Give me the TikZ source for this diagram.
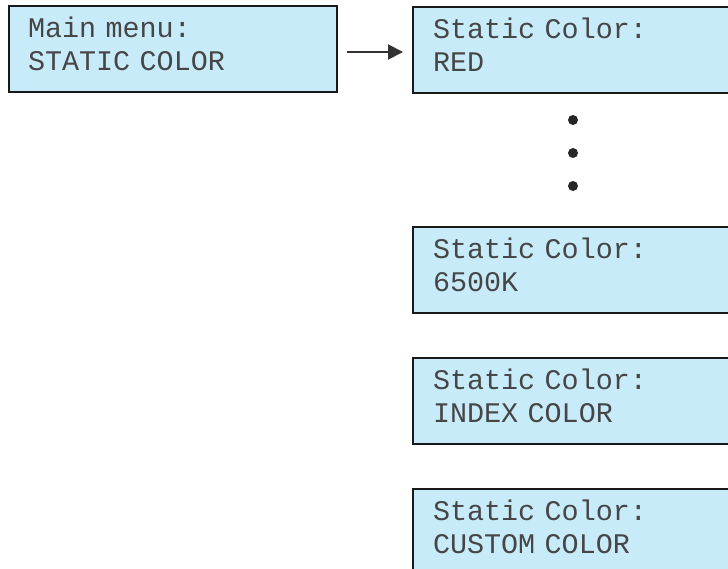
\documentclass[tikz,border=0pt]{standalone}
\usepackage{fontspec}
\setmonofont{Liberation Mono}
\usetikzlibrary{arrows.meta}
\definecolor{lcdfill}{RGB}{200,235,250}
\definecolor{lcdtext}{RGB}{70,70,70}
\definecolor{arrowcol}{RGB}{50,50,50}
\tikzset{
  lcd/.style={draw=black!90, line width=2pt, fill=lcdfill, anchor=north west,
    minimum height=86pt, inner xsep=19pt, inner ysep=0pt,
    text width=290pt, align=left, text=lcdtext,
    font=\ttfamily\fontsize{28.4}{33}\selectfont,
    execute at end node={\rule[-10pt]{0pt}{10pt}}},
  dotmark/.style={circle, fill=black!85, inner sep=0pt, minimum size=10pt},
  flow/.style={draw=arrowcol, line width=2pt, shorten >=9pt,
    -{Triangle[length=15pt,width=15pt]}}
}
\begin{document}
\begin{tikzpicture}[x=1pt,y=-1pt]
\clip (0,0) rectangle (728,569);
\fill[white] (0,0) rectangle (728,569);
\node[lcd, minimum width=326pt] (main) at (8,5) {Main menu:\\STATIC COLOR};
\node[lcd, minimum width=330pt] (red) at (412,6) {Static Color:\\RED};
\node[lcd, minimum width=330pt] (k6500) at (412,226) {Static Color:\\6500K};
\node[lcd, minimum width=330pt] (index) at (412,357) {Static Color:\\INDEX COLOR};
\node[lcd, minimum width=330pt] (custom) at (412,488) {Static Color:\\CUSTOM COLOR};
\node[dotmark] (d1) at (573,120) {};
\node[dotmark] (d2) at (573,153) {};
\node[dotmark] (d3) at (573,186) {};
\coordinate (astart) at (347,52);
\draw[flow] (astart) -- (red.west |- astart);
\end{tikzpicture}
\end{document}
